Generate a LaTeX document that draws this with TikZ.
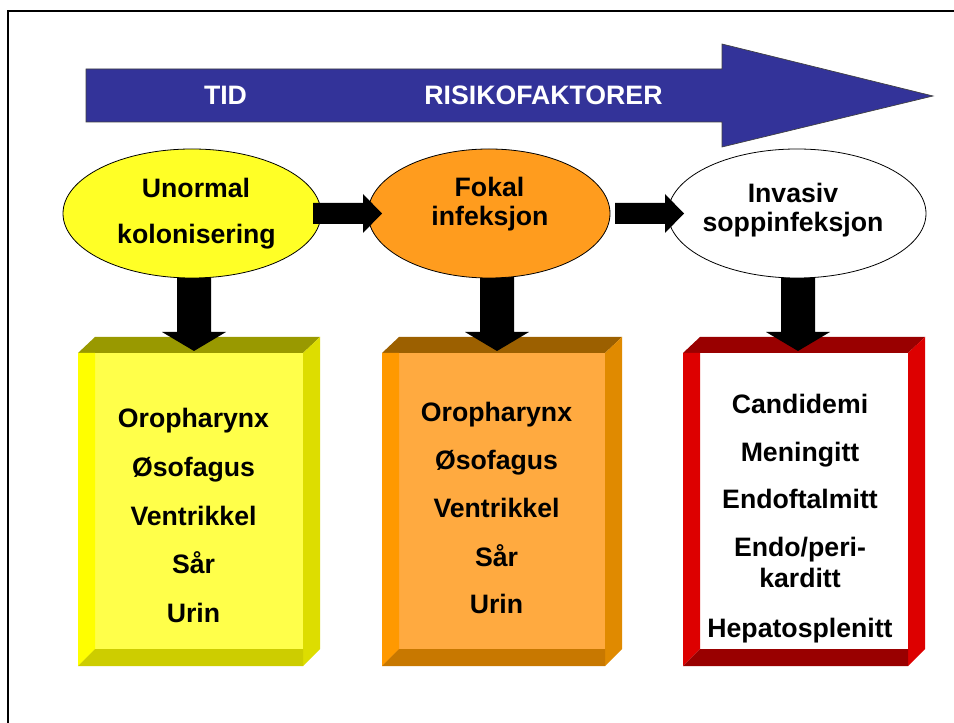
\documentclass[tikz,border=0pt]{standalone}
\usepackage{fontspec}
\setmainfont{Liberation Sans}
\usetikzlibrary{shapes.geometric}
\definecolor{arrowblue}{HTML}{333399}
\definecolor{ylwMain}{HTML}{FFFF4A}
\definecolor{ylwLeft}{HTML}{FFFF00}
\definecolor{ylwBottom}{HTML}{CDCD00}
\definecolor{ylwTop}{HTML}{999900}
\definecolor{ylwSide}{HTML}{DDDD00}
\definecolor{ylwEll}{HTML}{FFFF26}
\definecolor{orgMain}{HTML}{FFAA40}
\definecolor{orgLeft}{HTML}{FF9900}
\definecolor{orgBottom}{HTML}{C87800}
\definecolor{orgTop}{HTML}{9C6000}
\definecolor{orgSide}{HTML}{E08A00}
\definecolor{orgEll}{HTML}{FF9C1E}
\definecolor{redSide}{HTML}{DD0000}
\definecolor{redTop}{HTML}{990000}
% \boxcube{x0}{y0}{x1}{y1}{main}{left}{bottom}{top}{side}
\newcommand{\boxcube}[9]{%
  \fill[#8] (#1,#2) -- (#1+17,#2-16) -- (#3+17,#2-16) -- (#3,#2) -- cycle;
  \fill[#9] (#3,#2) -- (#3+17,#2-16) -- (#3+17,#4-17) -- (#3,#4) -- cycle;
  \fill[#5] (#1,#2) rectangle (#3,#4);
  \fill[#6] (#1,#2) -- (#1+17,#2) -- (#1+17,#4-17) -- (#1,#4) -- cycle;
  \fill[#7] (#1,#4) -- (#1+17,#4-17) -- (#3,#4-17) -- (#3,#4) -- cycle;
}
\begin{document}
\begin{tikzpicture}[x=0.75pt,y=-0.75pt,
  txt/.style={font=\fontsize{20}{24}\selectfont\bfseries, anchor=base, inner sep=0pt},
  ell/.style={ellipse, draw=black, line width=0.6pt, inner sep=0pt},
  blockarrow/.style={fill=black}]
\useasboundingbox (0,0) rectangle (954,723);
\fill[white] (0,0) rectangle (954,723);
% frame
\draw[line width=1.5pt] (8,724) -- (8,11) -- (955,11);
% big time arrow
\filldraw[fill=arrowblue, draw=black!75, line width=0.5pt]
  (86,69) -- (722,69) -- (722,44) -- (933,96) -- (722,147) -- (722,122) -- (86,122) -- cycle;
\node[txt, text=white] (tid) at (225.5,105) {TID};
\node[txt, text=white] (risk) at (543.5,105) {RISIKOFAKTORER};
% boxes
\boxcube{78}{353}{303}{666}{ylwMain}{ylwLeft}{ylwBottom}{ylwTop}{ylwSide}
\boxcube{382}{353}{605}{666}{orgMain}{orgLeft}{orgBottom}{orgTop}{orgSide}
\boxcube{683}{353}{908}{666}{white}{redSide}{redTop}{redTop}{redSide}
\coordinate (b1) at (194,351);
\coordinate (b2) at (497,351);
\coordinate (b3) at (798,351);
% ellipse centres
\coordinate (e1c) at (192,213.5);
\coordinate (e2c) at (489,213.5);
\coordinate (e3c) at (797,213.5);
% down arrows (under ellipses)
\foreach \t in {b1, b2, b3}{
  \fill[blockarrow] ([xshift=-12.75pt]\t |- 0,250) -- ([xshift=-12.75pt]\t |- 0,332)
    -- ([xshift=-24pt]\t |- 0,332) -- (\t) -- ([xshift=24pt]\t |- 0,332)
    -- ([xshift=12.75pt]\t |- 0,332) -- ([xshift=12.75pt]\t |- 0,250) -- cycle;
}
% ellipses
\node[ell, fill=ylwEll, minimum width=193.5pt, minimum height=96.75pt] (e1) at (e1c) {};
\node[ell, fill=orgEll, minimum width=181.5pt, minimum height=96.75pt] (e2) at (e2c) {};
\node[ell, fill=white, minimum width=193.5pt, minimum height=96.75pt] (e3) at (e3c) {};
\node[txt] (e1a) at (196,197.5) {Unormal};
\node[txt] (e1b) at (196.5,244) {kolonisering};
\node[txt] (e2a) at (489.5,197) {Fokal};
\node[txt] (e2b) at (490,226) {infeksjon};
\node[txt] (e3a) at (793,203) {Invasiv};
\node[txt] (e3b) at (793,232) {soppinfeksjon};
% horizontal arrows
\fill[blockarrow] (313,203) -- (363,203) -- (363,194) -- (382,213.5) -- (363,233) -- (363,224) -- (313,224) -- cycle;
\fill[blockarrow] (615,203) -- (665,203) -- (665,194) -- (684,213.5) -- (665,233) -- (665,224) -- (615,224) -- cycle;
% box texts
\foreach \t/\y in {Oropharynx/428, Øsofagus/477, Ventrikkel/526, Sår/574, Urin/623}
  \node[txt] at (193.5,\y) {\t};
\foreach \t/\y in {Oropharynx/422, Øsofagus/470, Ventrikkel/518, Sår/566, Urin/614}
  \node[txt] at (496.5,\y) {\t};
\foreach \t/\y in {Candidemi/414, Meningitt/462, Endoftalmitt/509, {Endo/peri-}/557, karditt/588, Hepatosplenitt/638}
  \node[txt] at (800,\y) {\t};
\end{tikzpicture}
\end{document}
